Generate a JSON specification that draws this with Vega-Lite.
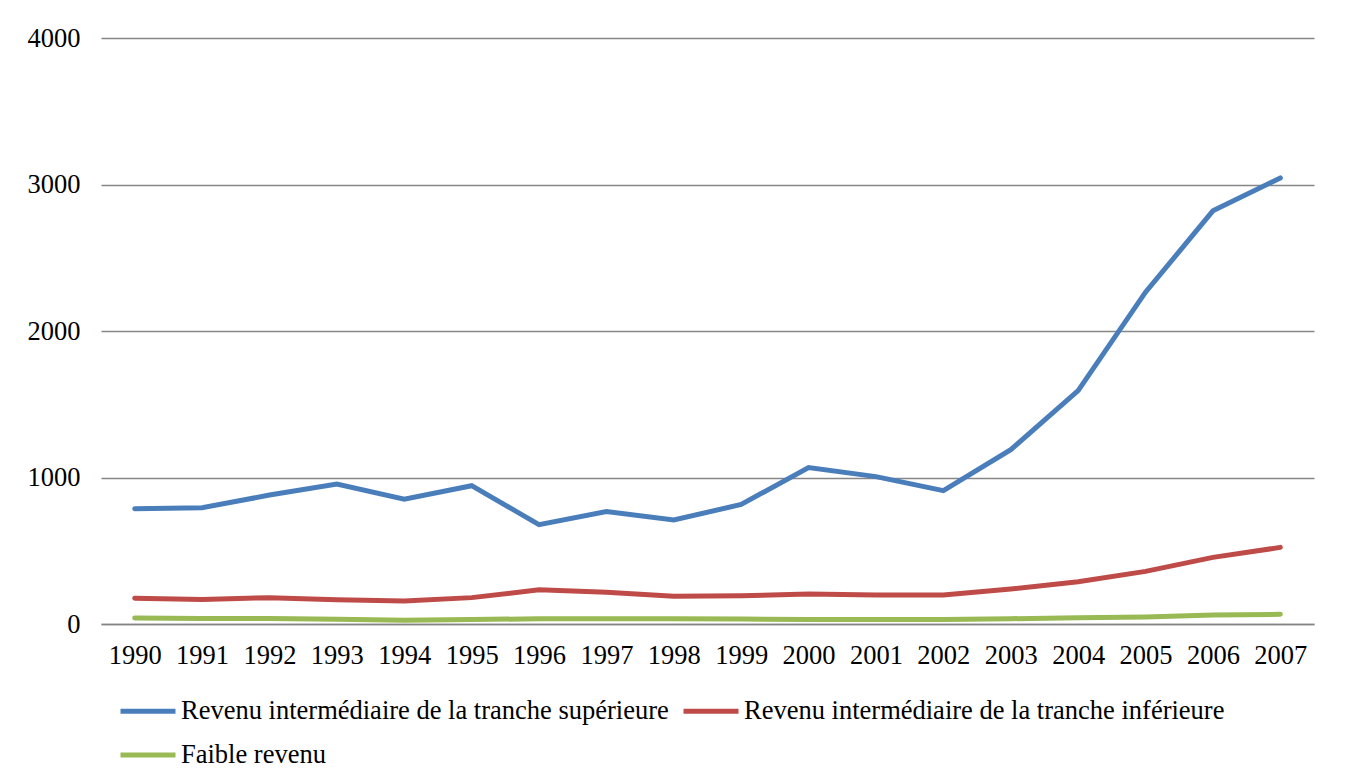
{
  "$schema": "https://vega.github.io/schema/vega-lite/v6.json",
  "autosize": {"type": "none"},
  "width": 1213,
  "height": 586,
  "padding": {"left": 101, "top": 38, "right": 34, "bottom": 160},
  "background": "white",
  "config": {
    "font": "Liberation Serif",
    "view": {"stroke": null}
  },
  "data": {
    "values": [
      {"annee": "1990", "serie": "Revenu intermédiaire de la tranche supérieure", "valeur": 787},
      {"annee": "1991", "serie": "Revenu intermédiaire de la tranche supérieure", "valeur": 794},
      {"annee": "1992", "serie": "Revenu intermédiaire de la tranche supérieure", "valeur": 880},
      {"annee": "1993", "serie": "Revenu intermédiaire de la tranche supérieure", "valeur": 956},
      {"annee": "1994", "serie": "Revenu intermédiaire de la tranche supérieure", "valeur": 852},
      {"annee": "1995", "serie": "Revenu intermédiaire de la tranche supérieure", "valeur": 944},
      {"annee": "1996", "serie": "Revenu intermédiaire de la tranche supérieure", "valeur": 678},
      {"annee": "1997", "serie": "Revenu intermédiaire de la tranche supérieure", "valeur": 768},
      {"annee": "1998", "serie": "Revenu intermédiaire de la tranche supérieure", "valeur": 710},
      {"annee": "1999", "serie": "Revenu intermédiaire de la tranche supérieure", "valeur": 816},
      {"annee": "2000", "serie": "Revenu intermédiaire de la tranche supérieure", "valeur": 1068},
      {"annee": "2001", "serie": "Revenu intermédiaire de la tranche supérieure", "valeur": 1006},
      {"annee": "2002", "serie": "Revenu intermédiaire de la tranche supérieure", "valeur": 910},
      {"annee": "2003", "serie": "Revenu intermédiaire de la tranche supérieure", "valeur": 1190},
      {"annee": "2004", "serie": "Revenu intermédiaire de la tranche supérieure", "valeur": 1593},
      {"annee": "2005", "serie": "Revenu intermédiaire de la tranche supérieure", "valeur": 2265},
      {"annee": "2006", "serie": "Revenu intermédiaire de la tranche supérieure", "valeur": 2820},
      {"annee": "2007", "serie": "Revenu intermédiaire de la tranche supérieure", "valeur": 3045},
      {"annee": "1990", "serie": "Revenu intermédiaire de la tranche inférieure", "valeur": 176},
      {"annee": "1991", "serie": "Revenu intermédiaire de la tranche inférieure", "valeur": 167},
      {"annee": "1992", "serie": "Revenu intermédiaire de la tranche inférieure", "valeur": 180},
      {"annee": "1993", "serie": "Revenu intermédiaire de la tranche inférieure", "valeur": 166},
      {"annee": "1994", "serie": "Revenu intermédiaire de la tranche inférieure", "valeur": 157},
      {"annee": "1995", "serie": "Revenu intermédiaire de la tranche inférieure", "valeur": 180},
      {"annee": "1996", "serie": "Revenu intermédiaire de la tranche inférieure", "valeur": 233},
      {"annee": "1997", "serie": "Revenu intermédiaire de la tranche inférieure", "valeur": 217},
      {"annee": "1998", "serie": "Revenu intermédiaire de la tranche inférieure", "valeur": 190},
      {"annee": "1999", "serie": "Revenu intermédiaire de la tranche inférieure", "valeur": 193},
      {"annee": "2000", "serie": "Revenu intermédiaire de la tranche inférieure", "valeur": 205},
      {"annee": "2001", "serie": "Revenu intermédiaire de la tranche inférieure", "valeur": 198},
      {"annee": "2002", "serie": "Revenu intermédiaire de la tranche inférieure", "valeur": 198},
      {"annee": "2003", "serie": "Revenu intermédiaire de la tranche inférieure", "valeur": 239},
      {"annee": "2004", "serie": "Revenu intermédiaire de la tranche inférieure", "valeur": 289},
      {"annee": "2005", "serie": "Revenu intermédiaire de la tranche inférieure", "valeur": 359},
      {"annee": "2006", "serie": "Revenu intermédiaire de la tranche inférieure", "valeur": 455},
      {"annee": "2007", "serie": "Revenu intermédiaire de la tranche inférieure", "valeur": 523},
      {"annee": "1990", "serie": "\u00a0Faible revenu", "valeur": 41},
      {"annee": "1991", "serie": "\u00a0Faible revenu", "valeur": 37},
      {"annee": "1992", "serie": "\u00a0Faible revenu", "valeur": 37},
      {"annee": "1993", "serie": "\u00a0Faible revenu", "valeur": 32},
      {"annee": "1994", "serie": "\u00a0Faible revenu", "valeur": 26},
      {"annee": "1995", "serie": "\u00a0Faible revenu", "valeur": 30},
      {"annee": "1996", "serie": "\u00a0Faible revenu", "valeur": 36},
      {"annee": "1997", "serie": "\u00a0Faible revenu", "valeur": 36},
      {"annee": "1998", "serie": "\u00a0Faible revenu", "valeur": 36},
      {"annee": "1999", "serie": "\u00a0Faible revenu", "valeur": 34},
      {"annee": "2000", "serie": "\u00a0Faible revenu", "valeur": 30},
      {"annee": "2001", "serie": "\u00a0Faible revenu", "valeur": 31},
      {"annee": "2002", "serie": "\u00a0Faible revenu", "valeur": 31},
      {"annee": "2003", "serie": "\u00a0Faible revenu", "valeur": 36},
      {"annee": "2004", "serie": "\u00a0Faible revenu", "valeur": 43},
      {"annee": "2005", "serie": "\u00a0Faible revenu", "valeur": 48},
      {"annee": "2006", "serie": "\u00a0Faible revenu", "valeur": 61},
      {"annee": "2007", "serie": "\u00a0Faible revenu", "valeur": 66}
    ]
  },
  "mark": {"type": "line", "strokeWidth": 5, "strokeCap": "round", "strokeJoin": "miter"},
  "encoding": {
    "x": {
      "field": "annee",
      "type": "ordinal",
      "scale": {"type": "point", "padding": 0.5},
      "axis": {
        "title": null,
        "labelAngle": 0,
        "labelFontSize": 26.5,
        "labelColor": "black",
        "labelPadding": 18,
        "ticks": false,
        "domain": true,
        "domainColor": "#868686",
        "domainWidth": 1.5,
        "grid": false
      }
    },
    "y": {
      "field": "valeur",
      "type": "quantitative",
      "scale": {"domain": [0, 4000], "nice": false},
      "axis": {
        "title": null,
        "values": [0, 1000, 2000, 3000, 4000],
        "format": "d",
        "labelFontSize": 26.5,
        "labelColor": "black",
        "labelPadding": 21,
        "ticks": false,
        "domain": false,
        "grid": true,
        "gridColor": "#868686",
        "gridWidth": 1.5,
        "gridOpacity": 1
      }
    },
    "color": {
      "field": "serie",
      "type": "nominal",
      "sort": null,
      "scale": {
        "domain": ["Revenu intermédiaire de la tranche supérieure", "Revenu intermédiaire de la tranche inférieure", "\u00a0Faible revenu"],
        "range": ["#4a7ebb", "#be4b48", "#98b954"]
      },
      "legend": {
        "title": null,
        "orient": "none",
        "legendX": 17,
        "legendY": 643,
        "direction": "horizontal",
        "columns": 2,
        "columnPadding": 4,
        "rowPadding": 0,
        "padding": 0,
        "symbolType": "stroke",
        "symbolSize": 3025,
        "symbolStrokeWidth": 5,
        "labelFontSize": 26.5,
        "labelColor": "black",
        "labelOffset": 3,
        "labelLimit": 0
      }
    }
  }
}
